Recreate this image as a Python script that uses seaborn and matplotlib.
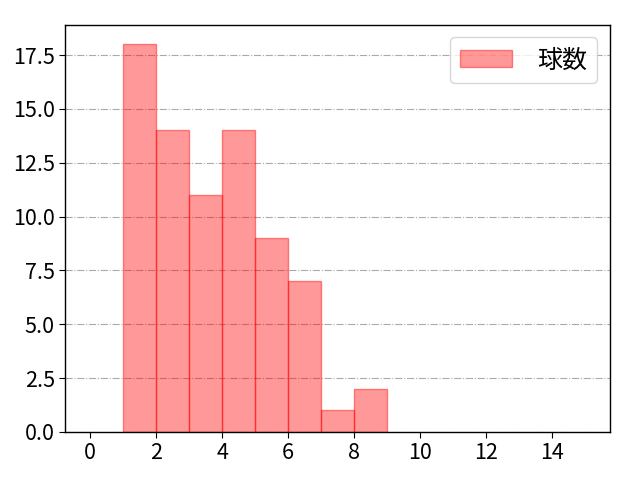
import matplotlib
matplotlib.use("Agg")
import matplotlib.pyplot as plt
import seaborn as sns
import pandas as pd

# pitch-count bins (left edge) and how many times each occurred
bin_left = [1, 2, 3, 4, 5, 6, 7, 8]
counts = [18, 14, 11, 14, 9, 7, 1, 2]
bin_edges = list(range(1, 10))
label = "球数"

sns.set_style("white")
plt.rcParams['font.family'] = ['Noto Sans CJK JP', 'DejaVu Sans']
plt.rcParams['text.color'] = 'black'
plt.rcParams['xtick.color'] = 'black'
plt.rcParams['ytick.color'] = 'black'

df = pd.DataFrame({"x": bin_left, "n": counts})

fig, ax = plt.subplots(figsize=(6.4, 4.8), dpi=100)
fig.subplots_adjust(left=0.102, right=0.953, top=0.948, bottom=0.1)

sns.histplot(data=df, x="x", weights="n", bins=bin_edges, ax=ax,
             color="red", alpha=0.4, edgecolor=(1, 0, 0, 0.45), linewidth=1,
             label=label)

ax.set_xlim(-0.75, 15.75)
ax.set_xticks([0, 2, 4, 6, 8, 10, 12, 14])
ax.set_xlabel("")
ax.set_ylabel("")
ax.yaxis.grid(True, linestyle="-.", color="#aaaaaa", linewidth=0.8)
ax.set_axisbelow(True)
for s in ax.spines.values():
    s.set_color("black")
    s.set_linewidth(1)
ax.tick_params(axis="both", labelsize=15.5, length=4, color="black",
               labelcolor="black", left=True, bottom=True)
ax.legend(loc="upper right", fontsize=18, handlelength=2.1, handletextpad=1.0,
          borderpad=0.4)

fig.savefig("out.png", dpi=100)
